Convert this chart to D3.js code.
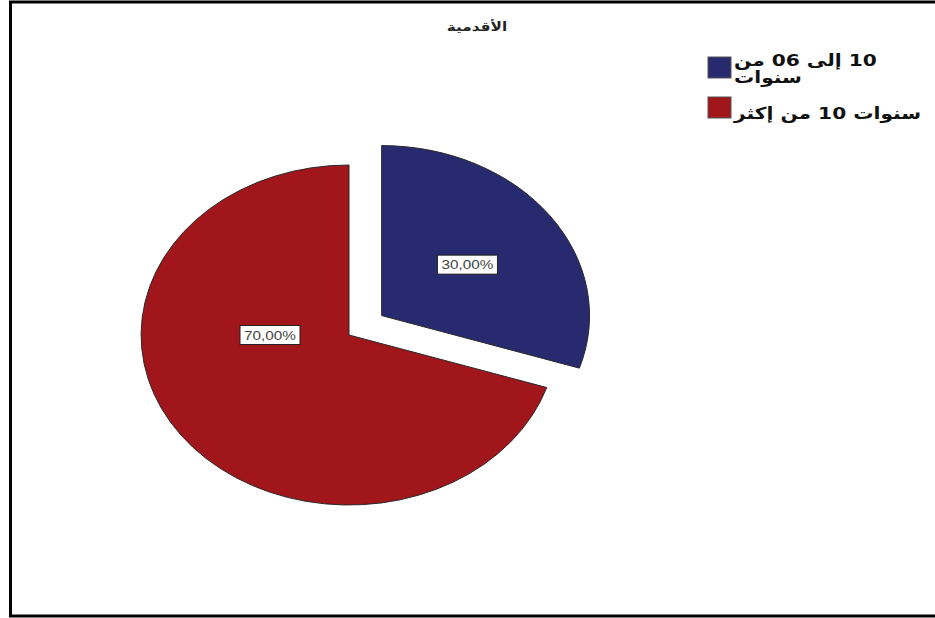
<!DOCTYPE html>
<html>
<head>
<meta charset="utf-8">
<script src="https://cdn.jsdelivr.net/npm/d3@7"></script>
<style>
  body { margin: 0; background: #fff; }
  svg { display: block; }
</style>
</head>
<body>
<script>
// data (strings kept in the visual order SPSS printed them)
const title = "الأقدمية";
const categories = ["10 إلى 06 من سنوات", "سنوات 10 من إكثر"];
const legendLines = [["10 إلى 06 من", "سنوات"], ["سنوات 10 من إكثر"]];
const values = [30, 70];
const labels = ["30,00%", "70,00%"];
const colors = ["#272a6e", "#a0161a"];

const width = 935;
const height = 618;
// the source picture is stretched horizontally
const sx = 1.223;
const RLM = "\u200F";

const svg = d3
  .select("body")
  .append("svg")
  .attr("width", width)
  .attr("height", height);

// frame
svg
  .append("rect")
  .attr("x", 10.5)
  .attr("y", 2)
  .attr("width", 940)
  .attr("height", 614)
  .attr("fill", "#fff")
  .attr("stroke", "#000")
  .attr("stroke-width", 3);

svg
  .append("text")
  .attr("transform", `translate(477, 31) scale(${sx}, 1)`)
  .attr("text-anchor", "middle")
  .style("font-family", "DejaVu Sans, sans-serif")
  .style("font-size", "12.5px")
  .style("font-weight", "bold")
  .attr("fill", "#222")
  .text(title);

// pie, drawn in circle space then stretched
const r = 170;
const explode = 33;

const pie = d3
  .pie()
  .sort(null)
  .value((d) => d)
  .startAngle(0)
  .endAngle(2 * Math.PI);

const arcs = pie(values);
const arc = d3.arc().innerRadius(0).outerRadius(r);

const pieG = svg
  .append("g")
  .attr("transform", `translate(349, 335) scale(${sx}, 1)`);

function offset(d, i) {
  if (i !== 0) return [0, 0];
  const a = (d.startAngle + d.endAngle) / 2;
  return [Math.sin(a) * explode, -Math.cos(a) * explode];
}

pieG
  .selectAll("path")
  .data(arcs)
  .enter()
  .append("path")
  .attr("d", arc)
  .attr("transform", (d, i) => `translate(${offset(d, i)})`)
  .attr("fill", (d, i) => colors[i])
  .attr("stroke", "#2a2a2a")
  .attr("stroke-width", 1)
  .attr("vector-effect", "non-scaling-stroke");

// labels (SPSS puts the big slice label to the left of the centre)
const labelPos = arcs.map((d, i) => {
  const o = offset(d, i);
  let a = (d.startAngle + d.endAngle) / 2;
  let k = 0.51;
  if (i === 1) {
    a = 1.5 * Math.PI;
    k = 0.38;
  }
  return [
    349 + (o[0] + Math.sin(a) * r * k) * sx,
    335 + o[1] - Math.cos(a) * r * k,
  ];
});

const labelG = svg
  .selectAll("g.lbl")
  .data(arcs)
  .enter()
  .append("g")
  .attr("class", "lbl")
  .attr("transform", (d, i) => `translate(${labelPos[i]})`);

labelG
  .append("rect")
  .attr("x", -30)
  .attr("y", -9.5)
  .attr("width", 60)
  .attr("height", 19)
  .attr("fill", "#fff")
  .attr("stroke", "#222")
  .attr("stroke-width", 1);

labelG
  .append("text")
  .attr("text-anchor", "middle")
  .attr("transform", `translate(0, 4.5) scale(${sx}, 1)`)
  .style("font-family", "Liberation Sans, Arial, sans-serif")
  .style("font-size", "12.5px")
  .attr("fill", "#444")
  .text((d, i) => labels[i]);

// legend
const legend = svg.append("g").attr("transform", "translate(708, 57)");

const item = legend
  .selectAll("g")
  .data(categories)
  .enter()
  .append("g")
  .attr("transform", (d, i) => `translate(0, ${i * 40})`);

item
  .append("rect")
  .attr("width", 23)
  .attr("height", 21)
  .attr("fill", (d, i) => colors[i])
  .attr("stroke", "#555")
  .attr("stroke-width", 1);

item.each(function (d, i) {
  const lines = legendLines[i];
  const base = 21.5 - (lines.length - 1) * 12.5;
  d3.select(this)
    .selectAll("text")
    .data(lines)
    .enter()
    .append("text")
    .attr("transform", (t, j) => `translate(26, ${base + j * 17}) scale(${sx}, 1)`)
    .style("font-family", "DejaVu Sans, sans-serif")
    .style("font-size", "16.5px")
    .style("font-weight", "bold")
    .attr("fill", "#111")
    .text((t) => RLM + t);
});
</script>
</body>
</html>
